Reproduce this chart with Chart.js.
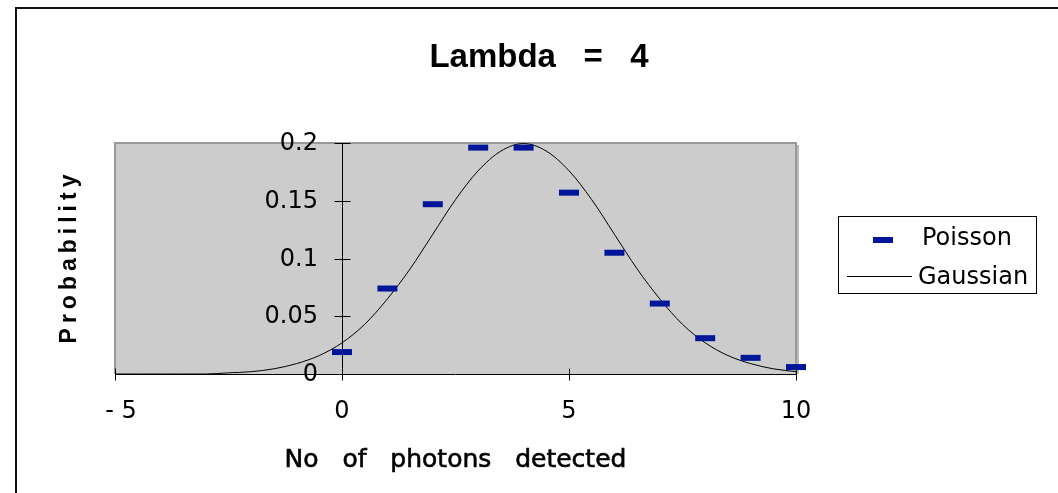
<!DOCTYPE html>
<html lang="en">
<head>
  <meta charset="UTF-8">
  <title>Lambda = 4</title>
  <script src="https://cdn.jsdelivr.net/npm/chart.js@4.4.0/dist/chart.umd.min.js"></script>
  <style>
    body { margin: 0; background: #fff; }
    #chartContainer { position: relative; width: 1058px; height: 493px; }
  </style>
</head>
<body>
  <div id="chartContainer">
    <canvas id="poissonChart"></canvas>
  </div>

  <script>
    // Poisson probabilities for lambda = 4
    const poissonX = [0, 1, 2, 3, 4, 5, 6, 7, 8, 9, 10];
    const poissonY = [0.019, 0.074, 0.147, 0.196, 0.196, 0.157, 0.105, 0.061, 0.031, 0.014, 0.006];

    // Gaussian curve (mean 4), sampled every 0.5
    const gaussX = [-5, -4.5, -4, -3.5, -3, -2.5, -2, -1.5, -1, -0.5, 0, 0.5, 1, 1.5, 2, 2.5,
                    3, 3.5, 4, 4.5, 5, 5.5, 6, 6.5, 7, 7.5, 8, 8.5, 9, 9.5, 10];
    const gaussY = [0, 0, 0, 0, 0, 0.001, 0.002, 0.0045, 0.009, 0.016, 0.027, 0.043, 0.065, 0.091, 0.121, 0.151,
                    0.176, 0.193, 0.1995, 0.193, 0.176, 0.151, 0.121, 0.091, 0.065, 0.043, 0.027, 0.016, 0.009, 0.0045, 0.002];

    // Axis ticks
    const xTicks = [-5, 0, 5, 10];
    const xTickLabels = ['- 5', '0', '5', '10'];
    const yTicks = [0, 0.05, 0.1, 0.15, 0.2];
    const yTickLabels = ['0', '0.05', '0.1', '0.15', '0.2'];

    const seriesNames = ['Poisson', 'Gaussian'];
    const titleText = 'Lambda   =   4';
    const xTitle = 'No   of   photons   detected';
    const yTitle = 'Probability';

    const markerColor = '#00169a';
    const FONT = '"DejaVu Sans", sans-serif';
    const HEAD_FONT = '"Liberation Sans", Arial, sans-serif';

    // Excel-style frame, axes crossing at 0, titles and legend
    const excelDecor = {
      id: 'excelDecor',
      beforeDraw(chart) {
        const { ctx, chartArea: a } = chart;
        ctx.save();
        // outer frame (top and left edge)
        ctx.strokeStyle = '#111';
        ctx.lineWidth = 2;
        ctx.beginPath();
        ctx.moveTo(16, 493);
        ctx.lineTo(16, 8);
        ctx.lineTo(1058, 8);
        ctx.stroke();
        // plot area
        ctx.fillStyle = '#cccccc';
        ctx.fillRect(a.left, a.top, a.right - a.left, a.bottom - a.top);
        ctx.strokeStyle = '#999999';
        ctx.lineWidth = 2;
        ctx.beginPath();
        ctx.moveTo(a.left, a.bottom);
        ctx.lineTo(a.left, a.top);
        ctx.lineTo(a.right, a.top);
        ctx.lineTo(a.right, a.bottom);
        ctx.stroke();
        ctx.strokeStyle = '#b8b8b8';
        ctx.beginPath();
        ctx.moveTo(a.right + 2, a.top + 2);
        ctx.lineTo(a.right + 2, a.bottom);
        ctx.stroke();
        ctx.restore();
      },
      beforeDatasetsDraw(chart) {
        const { ctx, chartArea: a, scales: { x, y } } = chart;
        const x0 = Math.round(x.getPixelForValue(0)) + 0.5;
        const y0 = Math.round(y.getPixelForValue(0)) + 0.5;
        ctx.save();
        ctx.strokeStyle = '#000';
        ctx.lineWidth = 1;
        ctx.beginPath();
        // x axis with crossing ticks
        ctx.moveTo(a.left, y0);
        ctx.lineTo(a.right, y0);
        xTicks.forEach(v => {
          const px = Math.round(x.getPixelForValue(v)) + 0.5;
          ctx.moveTo(px, y0 - 6);
          ctx.lineTo(px, y0 + 6);
        });
        // y axis with crossing ticks
        ctx.moveTo(x0, y.getPixelForValue(0.2));
        ctx.lineTo(x0, y0 + 4);
        yTicks.forEach(v => {
          const py = Math.round(y.getPixelForValue(v)) + 0.5;
          ctx.moveTo(x0 - 8, py);
          ctx.lineTo(x0 + 8, py);
        });
        ctx.stroke();
        ctx.restore();
      },
      afterDraw(chart) {
        const { ctx, chartArea: a, scales: { x, y } } = chart;
        const x0 = x.getPixelForValue(0);
        ctx.save();
        ctx.fillStyle = '#000';

        // title
        ctx.font = 'bold 33px ' + HEAD_FONT;
        ctx.textAlign = 'center';
        ctx.textBaseline = 'alphabetic';
        ctx.fillText(titleText, 539, 67);

        // y tick labels, left of the y axis
        ctx.font = '24px ' + FONT;
        ctx.textAlign = 'right';
        ctx.textBaseline = 'middle';
        yTicks.forEach((v, i) => ctx.fillText(yTickLabels[i], x0 - 24, y.getPixelForValue(v) + 1));

        // x tick labels
        ctx.textAlign = 'center';
        xTicks.forEach((v, i) => ctx.fillText(xTickLabels[i], x.getPixelForValue(v) + (i === 0 ? 6 : 0), 412));

        // x title (slightly emboldened)
        ctx.save();
        ctx.font = '25px ' + FONT;
        ctx.strokeStyle = '#000';
        ctx.lineWidth = 0.6;
        const cx = (a.left + a.right) / 2;
        ctx.fillText(xTitle, cx, 460);
        ctx.strokeText(xTitle, cx, 460);
        ctx.restore();

        // y title
        ctx.save();
        ctx.translate(70, (a.top + a.bottom) / 2);
        ctx.rotate(-Math.PI / 2);
        ctx.font = 'bold 23px ' + HEAD_FONT;
        ctx.letterSpacing = '5px';
        ctx.fillText(yTitle, 2, 0);
        ctx.restore();

        // legend
        ctx.strokeStyle = '#000';
        ctx.lineWidth = 1;
        ctx.strokeRect(838.5, 216.5, 198, 77);
        ctx.fillStyle = markerColor;
        ctx.fillRect(873, 237, 20, 6);
        ctx.strokeStyle = '#000';
        ctx.beginPath();
        ctx.moveTo(847, 276.5);
        ctx.lineTo(912, 276.5);
        ctx.stroke();
        ctx.fillStyle = '#000';
        ctx.font = '24px ' + FONT;
        ctx.textAlign = 'left';
        ctx.fillText(seriesNames[0], 922, 239);
        ctx.fillText(seriesNames[1], 918, 278);
        ctx.restore();
      }
    };

    new Chart(document.getElementById('poissonChart'), {
      type: 'scatter',
      data: {
        datasets: [
          {
            label: seriesNames[0],
            data: poissonX.map((v, i) => ({ x: v, y: poissonY[i] })),
            pointStyle: 'line',
            pointRadius: 10,
            pointHoverRadius: 10,
            borderWidth: 6,
            borderColor: markerColor,
            backgroundColor: markerColor,
            clip: false
          },
          {
            label: seriesNames[1],
            data: gaussX.map((v, i) => ({ x: v, y: gaussY[i] })),
            showLine: true,
            pointRadius: 0,
            borderColor: '#000',
            borderWidth: 1,
            cubicInterpolationMode: 'monotone',
            clip: 2
          }
        ]
      },
      options: {
        responsive: true,
        maintainAspectRatio: false,
        animation: false,
        layout: { padding: { left: 115, right: 262, top: 143, bottom: 119 } },
        plugins: {
          legend: { display: false },
          title: { display: false },
          tooltip: { enabled: false }
        },
        scales: {
          x: { type: 'linear', min: -5, max: 10, display: false },
          y: { type: 'linear', min: 0, max: 0.2, display: false }
        }
      },
      plugins: [excelDecor]
    });
  </script>
</body>
</html>
